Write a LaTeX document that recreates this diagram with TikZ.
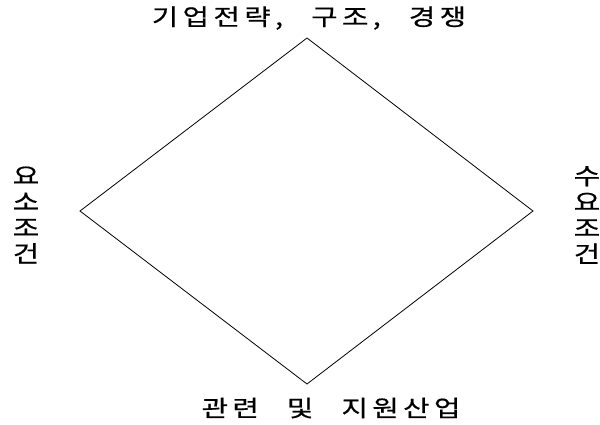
\documentclass[tikz,border=0pt]{standalone}
\usepackage{fontspec}
\newfontfamily\kr[FakeStretch=1.25,FakeBold=0.6,LetterSpace=19,WordSpace=2.6]{Noto Sans CJK KR}
\usetikzlibrary{positioning}

\tikzset{
  label kr/.style={font=\kr\fontsize{23}{26}\selectfont, inner sep=0pt},
  vert kr/.style={label kr, align=center},
  edge line/.style={draw=black, line width=0.8pt, line join=miter},
}

\begin{document}
\begin{tikzpicture}[x=1pt,y=-1pt]
    % page frame
    \useasboundingbox (0,0) rectangle (600,424);

    % Diamond corners
    \coordinate (top) at (307,38);
    \coordinate (right) at (533,211);
    \coordinate (bottom) at (307,384);
    \coordinate (left) at (80,211);
    \draw[edge line] (top) -- (right) -- (bottom) -- (left) -- cycle;

    % Four determinants
    \node[label kr] (strategy) at (309,18) {기업전략, 구조, 경쟁};
    \node[label kr] (related) at (331,408) {관련 및 지원산업};
    \node[vert kr] (factor) at (26,215) {요\\소\\조\\건};
    \node[vert kr] (demand) at (587,215) {수\\요\\조\\건};
\end{tikzpicture}
\end{document}
